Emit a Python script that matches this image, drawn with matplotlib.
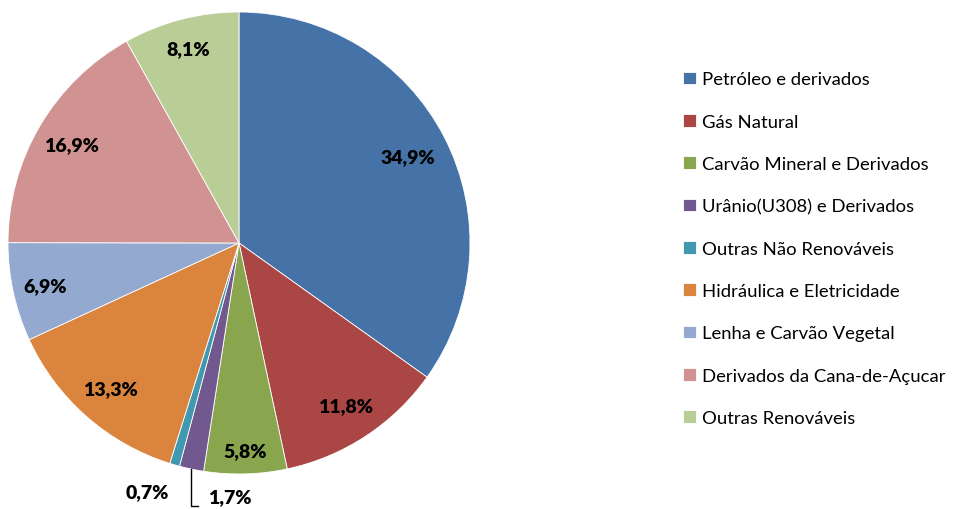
import numpy as np
import matplotlib
matplotlib.use("Agg")
import matplotlib.pyplot as plt

categories = ["Petróleo e derivados", "Gás Natural", "Carvão Mineral e Derivados",
              "Urânio(U308) e Derivados", "Outras Não Renováveis", "Hidráulica e Eletricidade",
              "Lenha e Carvão Vegetal", "Derivados da Cana-de-Açucar", "Outras Renováveis"]
values = [34.9, 11.8, 5.8, 1.7, 0.7, 13.3, 6.9, 16.9, 8.1]
value_labels = ["34,9%", "11,8%", "5,8%", "1,7%", "0,7%", "13,3%", "6,9%", "16,9%", "8,1%"]
colors = ["#4572A7", "#AA4643", "#89A54E", "#71588F", "#4198AF",
          "#DB843D", "#93A9CF", "#D19392", "#B9CD96"]

plt.rcParams['font.family'] = ['Lato', 'DejaVu Sans']

W, H = 957, 510
fig = plt.figure(figsize=(W / 100, H / 100), dpi=100)
cx, cy, R = 239, 244, 231
ax = fig.add_axes([(cx - R) / W, (H - cy - R) / H, 2 * R / W, 2 * R / H])
wedges, _ = ax.pie(values, colors=colors, startangle=90, counterclock=False,
                   wedgeprops=dict(edgecolor="white", linewidth=0.6))
ax.set_xlim(-1, 1)
ax.set_ylim(-1, 1)
ax.set_aspect('equal')
ax.axis('off')

LFS = 14
# label distances (fraction of radius) for inside labels
dist = [0.82, 0.84, 0.90, None, None, 0.84, 0.86, 0.84, 0.87]
for i, w in enumerate(wedges):
    mid = np.deg2rad((w.theta1 + w.theta2) / 2)
    if dist[i] is not None:
        ax.text(dist[i] * np.cos(mid), dist[i] * np.sin(mid), value_labels[i],
                ha='center', va='center', fontsize=LFS, fontweight='heavy', color='black')

# small slices: outside labels
# 1.7% with leader line
w = wedges[3]
mid = np.deg2rad((w.theta1 + w.theta2) / 2)
x0, y0 = np.cos(mid), np.sin(mid)
ybot = -1.138
ax.plot([x0, x0, x0 + 0.03], [y0, ybot, ybot], color='black', lw=1.0, clip_on=False)
ax.text(x0 + 0.07, ybot + 0.005, value_labels[3], ha='left', va='bottom',
        fontsize=LFS, fontweight='heavy', color='black')
# 0.7%
w = wedges[4]
mid = np.deg2rad((w.theta1 + w.theta2) / 2)
ax.text(1.13 * np.cos(mid) - 0.08, 1.13 * np.sin(mid) + 0.01, value_labels[4],
        ha='center', va='center', fontsize=LFS, fontweight='heavy', color='black')

leg = fig.legend(wedges, categories, loc='upper left',
                 bbox_to_anchor=(676 / W, 1 - 65 / H), frameon=False,
                 fontsize=13.3, handlelength=0.68, handleheight=0.68,
                 handletextpad=0.32, labelspacing=1.425, borderaxespad=0)
for t in leg.get_texts():
    t.set_color('black')

fig.savefig("out.png", dpi=100)
